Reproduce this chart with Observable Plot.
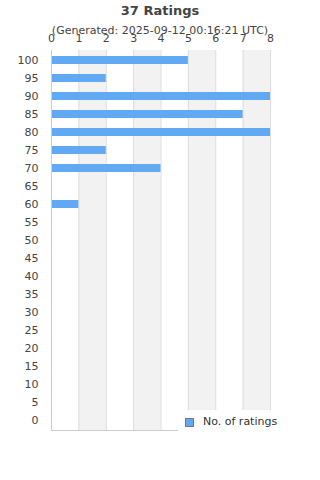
<!DOCTYPE html>
<html><head><meta charset="utf-8">
<script src="https://cdn.jsdelivr.net/npm/d3@7"></script>
<script src="https://cdn.jsdelivr.net/npm/@observablehq/plot@0.6"></script>
<style>
body{margin:0;background:#fff;font-family:"DejaVu Sans",sans-serif;}
#wrap{position:relative;width:320px;height:480px;}
.t{position:absolute;left:0;width:320px;text-align:center;color:#444;white-space:nowrap;}
#title{top:3px;font-size:13px;font-weight:bold;}
#sub{top:24px;font-size:11px;}
#legend{position:absolute;left:178px;top:410px;width:142px;height:30px;background:#fff;font-size:11px;color:#333;}
#legend .sw{position:absolute;left:7px;top:8px;width:7px;height:7px;background:#62a9f3;border:1px solid #777;}
#legend .lb{position:absolute;left:25px;top:5px;}
</style></head>
<body><div id="wrap">
<div id="title" class="t">37 Ratings</div>
<div id="sub" class="t">(Generated: 2025-09-12 00:16:21 UTC)</div>
<div id="chart"></div>
<div id="legend"><div class="sw"></div><div class="lb">No. of ratings</div></div>
</div>
<script>
const ratings = [100,95,90,85,80,75,70,65,60,55,50,45,40,35,30,25,20,15,10,5,0];
const counts  = [5,2,8,7,8,2,4,0,1,0,0,0,0,0,0,0,0,0,0,0,0];
const xTicks = [0,1,2,3,4,5,6,7,8];
const shadeStarts = [1,3,5,7];
const data = ratings.map((r,i)=>({rating:String(r), count:counts[i]}));
const shades = shadeStarts.map(s=>({x1:s,x2:s+1}));
const plot = Plot.plot({
  width:320, height:480,
  marginTop:50, marginBottom:50, marginLeft:51, marginRight:50,
  style:{fontFamily:"DejaVu Sans, sans-serif", fontSize:"11px", color:"#444", background:"transparent"},
  x:{domain:[0,8], ticks:xTicks, axis:"top", tickSize:0, tickPadding:9, label:null, tickFormat:d3.format("d")},
  y:{domain:ratings.map(String), paddingInner:0.55, paddingOuter:0.275, tickSize:0, tickPadding:13, label:null},
  marks:[
    Plot.rect(shades,{x1:"x1",x2:"x2",fill:"#f2f2f2"}),
    Plot.ruleX(xTicks.slice(1),{stroke:"#dddddd"}),
    Plot.barX(data,{y:"rating",x:"count",fill:"#62a9f3"}),
    Plot.ruleX([0],{stroke:"#cccccc"}),
    Plot.frame({anchor:"bottom",stroke:"#cccccc"})
  ]
});
document.getElementById("chart").appendChild(plot);
</script>
</body></html>
